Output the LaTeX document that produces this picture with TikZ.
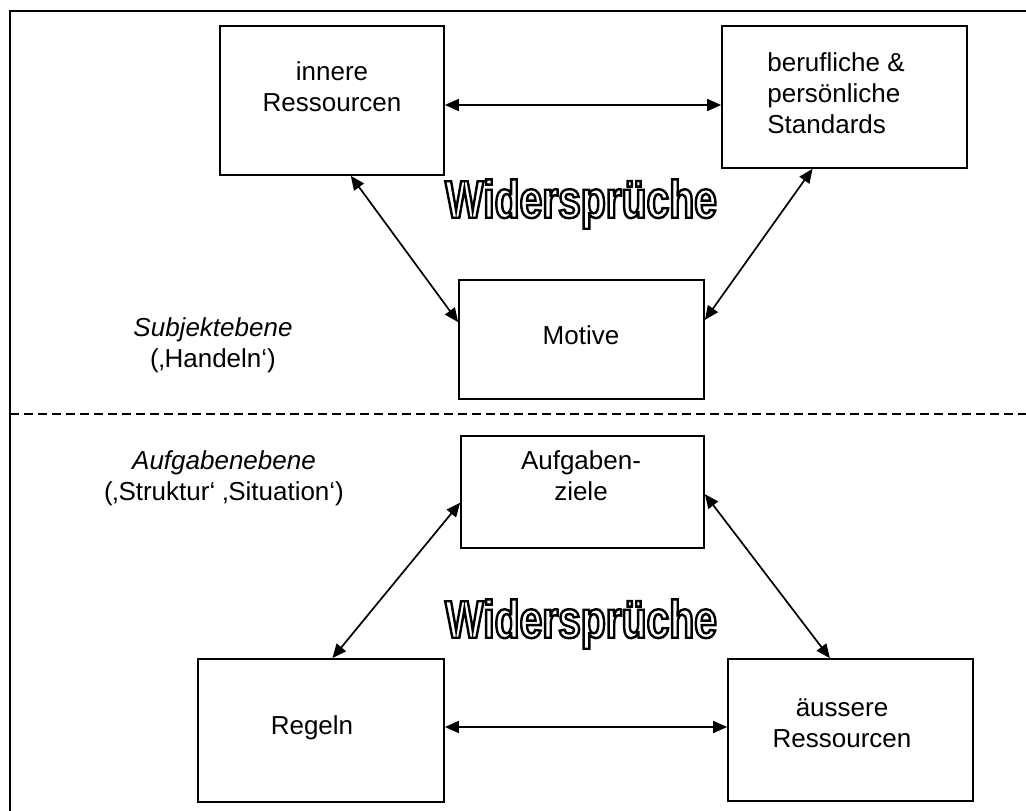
\documentclass[tikz,border=0pt]{standalone}
\usepackage{fontspec}
\setmainfont{Liberation Sans}
\newfontfamily\wfont{Liberation Sans}[FakeStretch=0.77]
\usepackage{tikz}
\usetikzlibrary{positioning}
\usetikzlibrary{arrows.meta}
\newcommand{\umriss}[1]{\special{pdf:code q 2 Tr 2.4 w 0 0 0 RG 1 1 1 rg}#1\special{pdf:code 0 Tr Q}}
\tikzset{%
  box/.style      = {draw, line width=1.7pt, rectangle, inner sep=0pt}, % Kasten
  txt/.style      = {align=center, font=\fontsize{26}{31}\selectfont},
  ebene/.style    = {align=center, font=\fontsize{26}{31}\selectfont},
  wider/.style    = {font=\wfont\bfseries\fontsize{53}{60}\selectfont},
  trenn/.style    = {line width=1.5pt, dash pattern=on 9pt off 5pt}
}

\begin{document}
\begin{tikzpicture}[x=1pt, y=-1pt, line width=1.7pt, >={Triangle[length=14pt, width=12pt]}]

  \useasboundingbox (0,0) rectangle (1026,811);

  % Rahmen und Trennlinie
  \draw (10,811) -- (10,11) -- (1026,11);
  \draw[trenn] (10,414) -- (1026,414);

  % Subjektebene
  \draw node at (332,100.5) [box, minimum width=224, minimum height=149] (inner) {};
  \draw node at (844.5,97) [box, minimum width=245, minimum height=142] (beruf) {};
  \draw node at (581.5,339.5) [box, minimum width=245, minimum height=119] (motive) {};
  \draw node at (332,87) [txt] (innerT) {innere\\Ressourcen};
  \draw node at (836,93) [txt, align=left] (berufT) {berufliche \&\\persönliche\\Standards};
  \draw node at (581,335) [txt] (motiveT) {Motive};
  \draw node at (581,204) [wider] (wid1) {\umriss{Widersprüche}};
  \draw node at (213,345) [ebene] (subj) {\textit{Subjektebene}\\(‚Handeln‘)};

  % Aufgabenebene
  \draw node at (582.5,492) [box, minimum width=243, minimum height=112] (ziele) {};
  \draw node at (321,730.5) [box, minimum width=246, minimum height=143] (regeln) {};
  \draw node at (850.5,730) [box, minimum width=245, minimum height=142] (aeuss) {};
  \draw node at (581,476) [txt] (zieleT) {Aufgaben-\\ziele};
  \draw node at (312,728) [txt] (regelnT) {Regeln};
  \draw node at (842,723) [txt] (aeussT) {äussere\\Ressourcen};
  \draw node at (581,624) [wider] (wid2) {\umriss{Widersprüche}};
  \draw node at (224,478) [ebene] (aufg) {\textit{Aufgabenebene}\\(‚Struktur‘ ‚Situation‘)};

  \draw[<->] ([yshift=-4.5pt]inner.east) -- ([yshift=-4.5pt]inner.east -| beruf.west);
  \draw[<->] (inner.-76) -- (motive.172);
  \draw[<->] (beruf.-114) -- (motive.9);
  \draw[<->] (ziele.185) -- (regeln.81);
  \draw[<->] (ziele.-1) -- (aeuss.106);
  \draw[<->] ([yshift=3.5pt]regeln.east) -- ([yshift=3.5pt]regeln.east -| aeuss.west);

\end{tikzpicture}
\end{document}
